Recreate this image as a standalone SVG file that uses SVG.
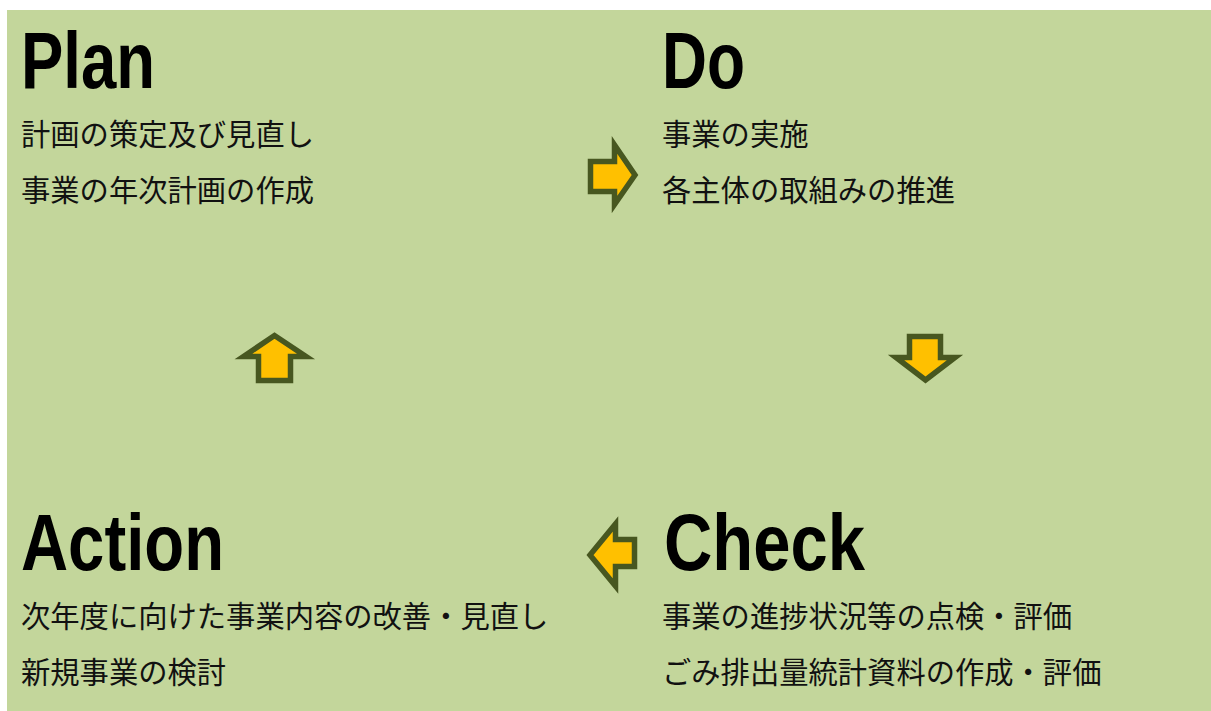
<svg xmlns="http://www.w3.org/2000/svg" width="1211" height="711" viewBox="0 0 1211 711">
<style>
.title{font-family:"Liberation Sans",Arial,sans-serif;font-weight:bold;font-size:80px;fill:#000}
.body{font-family:"Noto Sans CJK JP","Noto Sans",sans-serif;font-size:29.3px;fill:#111}
.arrow{fill:#FFC000;stroke:#475720;stroke-width:5.5;stroke-linejoin:miter}
</style>
<rect x="7" y="10" width="1204" height="701" fill="#C3D69B"/>
<g id="plan">
<text class="title" x="21" y="88" textLength="134" lengthAdjust="spacingAndGlyphs">Plan</text>
<text class="body" x="21" y="145">計画の策定及び見直し</text>
<text class="body" x="21" y="201">事業の年次計画の作成</text>
</g>
<g id="do">
<text class="title" x="662" y="88" textLength="83" lengthAdjust="spacingAndGlyphs">Do</text>
<text class="body" x="662" y="145">事業の実施</text>
<text class="body" x="662" y="201">各主体の取組みの推進</text>
</g>
<g id="check">
<text class="title" x="664" y="570" textLength="201" lengthAdjust="spacingAndGlyphs">Check</text>
<text class="body" x="662" y="627">事業の進捗状況等の点検・評価</text>
<text class="body" x="662" y="683">ごみ排出量統計資料の作成・評価</text>
</g>
<g id="action">
<text class="title" x="21" y="570" textLength="203" lengthAdjust="spacingAndGlyphs">Action</text>
<text class="body" x="21" y="627">次年度に向けた事業内容の改善・見直し</text>
<text class="body" x="21" y="683">新規事業の検討</text>
</g>
<g id="connectors">
<path class="arrow" d="M590.5,161.5 H614.5 V145 L635,175 L614.5,204.5 V191.5 H590.5 Z"/>
<path class="arrow" d="M909.5,336.5 H940.5 V357.5 H955 L925.5,380 L896,357.5 H909.5 Z"/>
<path class="arrow" d="M634.5,539.5 H615.5 V524 L590,555 L615.5,586 V566.5 H634.5 Z"/>
<path class="arrow" d="M258.5,380.5 V356.5 H243.5 L274.5,335.5 L306,356.5 H290.5 V380.5 Z"/>
</g>
</svg>
